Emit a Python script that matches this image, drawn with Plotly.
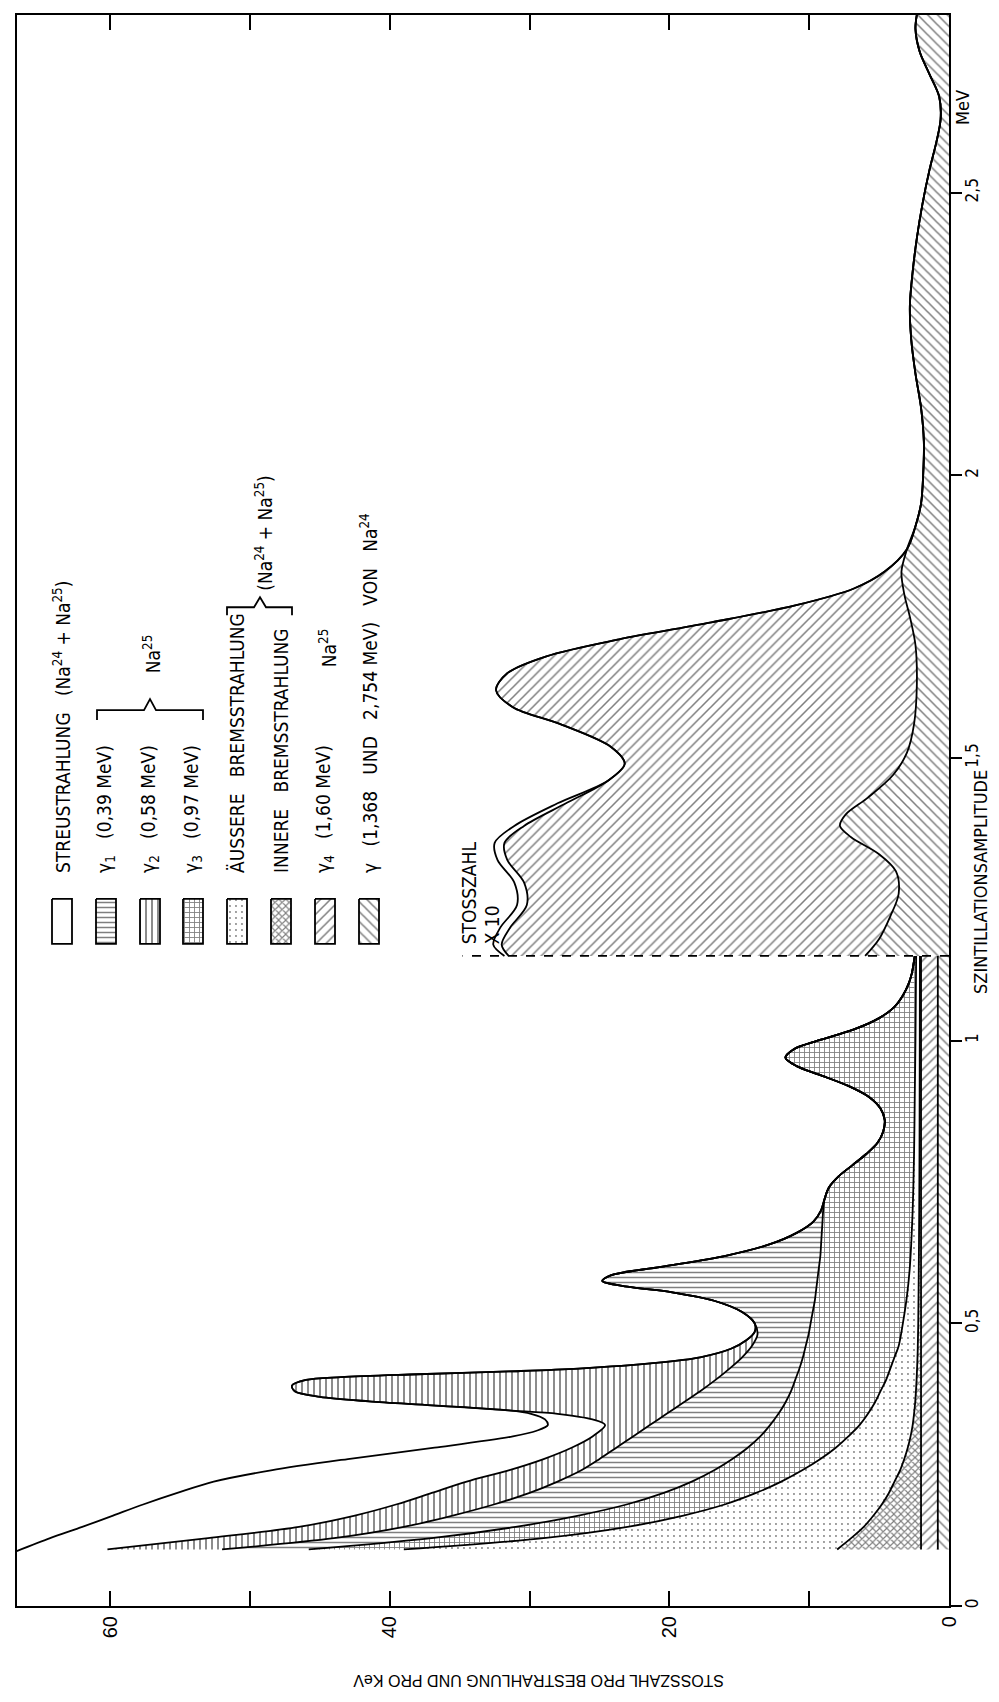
import plotly.graph_objects as go

# ---------------- DATA (energy in MeV, cumulative counts per keV) ----------------
# low-energy part (scale x1), layers stacked from the axis outward
E_NA24_LO = [0.10, 1.15]
C_NA24_LO = [0.8, 0.8]
E_G4_LO = [0.10, 1.15]
C_G4_LO = [2.0, 2.0]

E_INN = [0.10, 0.12, 0.14, 0.16, 0.18, 0.20, 0.22, 0.24, 0.26, 0.28, 0.30, 0.32, 0.34, 0.36, 0.40,
         0.45, 0.50, 0.60, 0.70, 0.80, 0.90, 1.00, 1.15]
C_INN = [8.0, 7.0, 6.1, 5.4, 4.8, 4.3, 3.9, 3.5, 3.2, 2.95, 2.75, 2.6, 2.5, 2.42, 2.32,
         2.24, 2.2, 2.16, 2.13, 2.11, 2.1, 2.09, 2.08]

E_AUS = [0.10, 0.12, 0.14, 0.16, 0.18, 0.20, 0.22, 0.24, 0.26, 0.28, 0.30, 0.32, 0.34, 0.36, 0.38,
         0.40, 0.42, 0.44, 0.46, 0.50, 0.55, 0.60, 0.70, 0.80, 0.90, 1.00, 1.15]
C_AUS = [39.0, 29.0, 23.0, 19.0, 16.0, 13.8, 12.0, 10.5, 9.2, 8.1, 7.2, 6.4, 5.8, 5.3, 4.9,
         4.5, 4.2, 3.9, 3.6, 3.3, 3.0, 2.8, 2.6, 2.5, 2.45, 2.4, 2.35]

E_G3 = [0.10, 0.12, 0.14, 0.16, 0.18, 0.20, 0.22, 0.24, 0.26, 0.28, 0.30, 0.32, 0.34, 0.36, 0.38,
        0.40, 0.42, 0.44, 0.46, 0.48, 0.50, 0.52, 0.54, 0.56, 0.58, 0.60, 0.62, 0.64, 0.66, 0.68,
        0.70, 0.72, 0.74, 0.76, 0.78, 0.80, 0.82, 0.84, 0.86, 0.88, 0.90, 0.92, 0.94, 0.955, 0.97,
        0.985, 1.00, 1.02, 1.04, 1.06, 1.08, 1.10, 1.12, 1.15]
C_G3 = [45.8, 37.0, 31.0, 26.5, 23.0, 20.4, 18.4, 16.8, 15.5, 14.4, 13.5, 12.8, 12.2, 11.7, 11.3,
        11.0, 10.7, 10.45, 10.25, 10.05, 9.9, 9.75, 9.6, 9.5, 9.4, 9.3, 9.2, 9.15, 9.1, 9.05,
        9.0, 8.9, 8.6, 7.9, 6.9, 5.9, 5.1, 4.7, 4.6, 4.9, 5.7, 7.2, 9.3, 10.9, 11.7,
        11.1, 9.4, 6.8, 5.0, 3.9, 3.3, 2.9, 2.65, 2.45]

E_G2 = [0.10, 0.12, 0.14, 0.16, 0.18, 0.20, 0.22, 0.24, 0.26, 0.28, 0.30, 0.32, 0.34, 0.36, 0.38,
        0.40, 0.42, 0.44, 0.46, 0.48, 0.50, 0.52, 0.54, 0.555, 0.565, 0.575, 0.585, 0.60, 0.62,
        0.64, 0.66, 0.68, 0.70, 0.72]
C_G2 = [52.0, 44.0, 39.0, 35.5, 32.5, 30.0, 28.0, 26.3, 25.0, 23.8, 22.6, 21.4, 20.2, 19.0, 17.8,
        16.7, 15.7, 14.8, 14.1, 13.7, 13.9, 14.8, 16.8, 19.8, 23.0, 24.8, 24.2, 20.6, 15.9,
        12.8, 10.9, 9.7, 9.15, 8.9]

E_G1 = [0.10, 0.12, 0.14, 0.16, 0.18, 0.20, 0.22, 0.24, 0.26, 0.28, 0.30, 0.32, 0.33, 0.34, 0.346]
C_G1 = [60.2, 53.0, 46.5, 42.5, 39.5, 37.0, 34.5, 31.5, 29.0, 27.0, 25.5, 24.6, 25.5, 28.0, 31.5]

# 0.39 MeV peak (common edge of gamma1 layer and the total)
E_SPK = [0.346, 0.355, 0.362, 0.37, 0.38, 0.39, 0.40, 0.405, 0.41, 0.415, 0.42, 0.43, 0.44,
         0.455, 0.47, 0.485]
C_SPK = [31.5, 37.0, 41.5, 45.0, 46.8, 47.0, 46.0, 43.5, 38.0, 31.5, 26.5, 21.0, 17.8,
         15.6, 14.5, 13.9]

# outer edge of the scattered radiation (total)
E_W = [0.097, 0.12, 0.14, 0.16, 0.18, 0.20, 0.22, 0.24, 0.26, 0.28, 0.30, 0.31, 0.32, 0.33, 0.34]
C_W = [66.7, 64.3, 62.0, 59.8, 57.6, 55.2, 52.6, 48.5, 43.0, 36.8, 31.2, 29.5, 28.7, 28.9, 29.9]

# high-energy part (scale x10)
E_NA24_HI = [1.15, 1.18, 1.22, 1.26, 1.30, 1.33, 1.36, 1.38, 1.40, 1.43, 1.47, 1.51, 1.56, 1.63,
             1.70, 1.75, 1.79, 1.83, 1.87, 1.91, 1.95, 2.00, 2.06, 2.12, 2.18, 2.24, 2.30, 2.36,
             2.42, 2.48, 2.54, 2.59, 2.63, 2.67, 2.71, 2.75, 2.79, 2.815]
C_NA24_HI = [6.0, 5.0, 4.2, 3.6, 3.8, 5.0, 7.0, 7.8, 7.4, 5.8, 4.0, 3.0, 2.5, 2.3,
             2.4, 2.8, 3.2, 3.4, 3.0, 2.4, 2.0, 1.85, 1.8, 2.0, 2.4, 2.7, 2.8, 2.6,
             2.3, 1.9, 1.4, 0.9, 0.6, 0.7, 1.4, 2.1, 2.4, 2.3]

E_G4_HI = [1.15, 1.17, 1.20, 1.24, 1.28, 1.32, 1.35, 1.38, 1.42, 1.46, 1.49, 1.52, 1.56, 1.59,
           1.62, 1.65, 1.68, 1.71, 1.74, 1.77, 1.80, 1.83]
C_G4_HI = [31.5, 32.0, 31.4, 30.2, 30.4, 31.6, 31.8, 30.4, 27.4, 24.4, 23.2, 24.2, 27.8, 31.2,
           32.4, 31.6, 28.8, 23.6, 17.0, 11.0, 6.8, 4.6]

E_W_HI = [1.15, 1.17, 1.20, 1.24, 1.28, 1.32, 1.35, 1.38, 1.42, 1.46]
C_W_HI = [31.8, 32.6, 32.1, 30.9, 31.1, 32.3, 32.5, 31.1, 28.0, 24.4]

DIVIDER_E = 1.15
DIVIDER_C = [0.0, 34.8]

COUNT_TICKS = [0, 10, 20, 30, 40, 50, 60]
COUNT_TICK_TEXT = ["0", "", "20", "", "40", "", "60"]
E_TICKS = [0, 0.5, 1, 1.5, 2, 2.5]
E_TICK_TEXT = ["0", "0,5", "1", "1,5", "2", "2,5"]

LEGEND_LABELS = [
    "STREUSTRAHLUNG\u00a0\u00a0\u00a0(Na<sup>24</sup> + Na<sup>25</sup>)",
    "\u03b3<sub>1</sub>\u00a0\u00a0\u00a0(0,39 MeV)",
    "\u03b3<sub>2</sub>\u00a0\u00a0\u00a0(0,58 MeV)",
    "\u03b3<sub>3</sub>\u00a0\u00a0\u00a0(0,97 MeV)",
    "\u00c4USSERE\u00a0\u00a0\u00a0BREMSSTRAHLUNG",
    "INNERE\u00a0\u00a0\u00a0BREMSSTRAHLUNG",
    "\u03b3<sub>4</sub>\u00a0\u00a0\u00a0(1,60 MeV)",
    "\u03b3\u00a0\u00a0\u00a0(1,368\u00a0\u00a0\u00a0UND\u00a0\u00a0\u00a02,754 MeV)\u00a0\u00a0\u00a0VON\u00a0\u00a0\u00a0Na<sup>24</sup>",
]
LEGEND_PATTERNS = ["", "-", "|", "+", ".", "x", "/", "\\"]

# ---------------- STYLE ----------------
COND = "DejaVu Sans Condensed, Roboto Condensed, Liberation Sans Narrow, Roboto, sans-serif"
SANS = "Liberation Sans, Arial, Helvetica, sans-serif"
PAT = {
    "\\": dict(shape="\\", size=7, solidity=0.22),
    "/": dict(shape="/", size=7, solidity=0.22),
    "x": dict(shape="x", size=5, solidity=0.4),
    ".": dict(shape=".", size=6, solidity=0.08),
    "+": dict(shape="+", size=5, solidity=0.32),
    "-": dict(shape="-", size=5, solidity=0.3),
    "|": dict(shape="|", size=6, solidity=0.3),
}
LINE = dict(color="black", width=1.8, shape="spline", smoothing=0.9)

# plot area in pixels
PX_L, PX_R, PX_T, PX_B = 9, 941, 5, 1598


def tail(E, C, e0):
    return [e for e in E if e > e0], [c for e, c in zip(E, C) if e > e0]


g3t_E, g3t_C = tail(E_G3, C_G3, E_G2[-1])
g2t_E, g2t_C = tail(E_G2, C_G2, E_SPK[-1])

G2F_E, G2F_C = E_G2 + g3t_E, C_G2 + g3t_C
G1F_E = E_G1 + E_SPK[1:] + g2t_E + g3t_E
G1F_C = C_G1 + C_SPK[1:] + g2t_C + g3t_C
TF_E = E_W + E_SPK + g2t_E + g3t_E
TF_C = C_W + C_SPK + g2t_C + g3t_C

na_t_E, na_t_C = tail(E_NA24_HI, C_NA24_HI, E_G4_HI[-1])
G4HF_E, G4HF_C = E_G4_HI + na_t_E, C_G4_HI + na_t_C
g4t_E, g4t_C = tail(G4HF_E, G4HF_C, E_W_HI[-1])
WHF_E, WHF_C = E_W_HI + g4t_E, C_W_HI + g4t_C

fig = go.Figure()


def base(e0, e1):
    fig.add_trace(go.Scatter(x=[0, 0], y=[e0, e1], mode="lines",
                             line=dict(width=0, color="black"), hoverinfo="skip"))


def band(C, E, pat):
    kw = dict(x=C, y=E, mode="lines", line=LINE, fill="tonextx", fillcolor="white",
              hoverinfo="skip")
    if pat:
        kw["fillpattern"] = dict(fgcolor="black", bgcolor="white", **PAT[pat])
    fig.add_trace(go.Scatter(**kw))


# low-energy stack
base(E_NA24_LO[0], E_NA24_LO[-1])
band(C_NA24_LO, E_NA24_LO, "\\")
band(C_G4_LO, E_G4_LO, "/")
band(C_INN, E_INN, "x")
band(C_AUS, E_AUS, ".")
band(C_G3, E_G3, "+")
band(G2F_C, G2F_E, "-")
band(G1F_C, G1F_E, "|")
band(TF_C, TF_E, "")

# high-energy stack (x10)
base(E_NA24_HI[0], E_NA24_HI[-1])
band(C_NA24_HI, E_NA24_HI, "\\")
band(G4HF_C, G4HF_E, "/")
band(WHF_C, WHF_E, "")

# dashed divider
fig.add_trace(go.Scatter(x=DIVIDER_C, y=[DIVIDER_E, DIVIDER_E], mode="lines",
                         line=dict(color="black", width=1.8, dash="dash"), hoverinfo="skip"))

# ---------------- legend (pixel overlay) ----------------
LEG_X = [54, 98, 142, 185, 229, 273, 317, 361]
BOX_TOP, BOX_BOT, BOX_HW = 890, 935, 10
TEXT_BOTTOM = 866
for cx, pat in zip(LEG_X, LEGEND_PATTERNS):
    kw = dict(x=[cx - BOX_HW, cx + BOX_HW, cx + BOX_HW, cx - BOX_HW, cx - BOX_HW],
              y=[BOX_TOP, BOX_TOP, BOX_BOT, BOX_BOT, BOX_TOP], mode="lines",
              line=dict(color="black", width=1.8), fill="toself", fillcolor="white",
              xaxis="x2", yaxis="y2", hoverinfo="skip")
    if pat:
        kw["fillpattern"] = dict(fgcolor="black", bgcolor="white", **PAT[pat])
    fig.add_trace(go.Scatter(**kw))

annotations = []


def txt(x, y, s, size=19, angle=-90, xa="center", ya="bottom", fam=COND):
    annotations.append(dict(x=(x - PX_L) / (PX_R - PX_L), y=(PX_B - y) / (PX_B - PX_T),
                            xref="paper", yref="paper", text=s, showarrow=False,
                            textangle=angle, xanchor=xa, yanchor=ya,
                            font=dict(family=fam, size=size, color="black")))


for cx, lab in zip(LEG_X, LEGEND_LABELS):
    txt(cx, TEXT_BOTTOM, lab)
txt(144, 666, "Na<sup>25</sup>")
txt(256, 584, "(Na<sup>24</sup> + Na<sup>25</sup>)")
txt(320, 660, "Na<sup>25</sup>")
txt(461, 938, "STOSSZAHL")
txt(484, 938, "X 10")
txt(973, 873, "SZINTILLATIONSAMPLITUDE", size=18, ya="middle")
txt(955, 98, "MeV", size=18, ya="middle")
txt(531, 1672, "STOSSZAHL PRO BESTRAHLUNG UND PRO KeV", size=16, angle=180, ya="middle", fam=SANS)

shapes = [
    dict(type="path", xref="x2", yref="y2",
         path="M 89,711 L 89,701 L 136,701 L 142,690 L 148,701 L 195,701 L 195,711",
         line=dict(color="black", width=1.8)),
    dict(type="path", xref="x2", yref="y2",
         path="M 219,606 L 219,598 L 246,598 L 252,588 L 258,598 L 284,598 L 284,606",
         line=dict(color="black", width=1.8)),
]

fig.update_layout(
    width=999, height=1702, margin=dict(l=PX_L, r=999 - PX_R, t=PX_T, b=1702 - PX_B),
    paper_bgcolor="white", plot_bgcolor="white", showlegend=False,
    font=dict(family=COND, color="black"),
    annotations=annotations, shapes=shapes,
    xaxis=dict(range=[66.67, 0], tickvals=COUNT_TICKS, ticktext=COUNT_TICK_TEXT,
               ticks="inside", ticklen=15, tickwidth=1.5, tickcolor="black",
               showline=True, linecolor="black", linewidth=2, mirror="ticks",
               showgrid=False, zeroline=False, tickangle=-90,
               tickfont=dict(family=SANS, size=20, color="black")),
    yaxis=dict(range=[0, 2.8145], side="right", tickvals=E_TICKS, ticktext=E_TICK_TEXT,
               ticks="outside", ticklen=11, tickwidth=2, tickcolor="black",
               ticklabelstandoff=-4,
               showline=True, linecolor="black", linewidth=2, mirror=True,
               showgrid=False, zeroline=False, tickangle=-90,
               tickfont=dict(family=COND, size=17, color="black")),
    xaxis2=dict(overlaying="x", range=[PX_L, PX_R], visible=False, anchor="y2"),
    yaxis2=dict(overlaying="y", range=[PX_B, PX_T], visible=False, anchor="x2"),
)

fig.write_html("out.html")
